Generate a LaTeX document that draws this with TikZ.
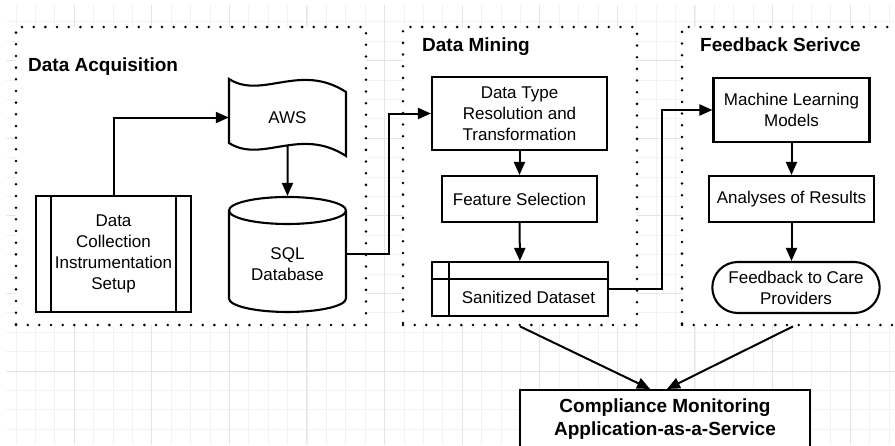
\documentclass[tikz,border=0pt]{standalone}
\usepackage{fontspec}
\setmainfont{Liberation Sans}
\usepackage{tikz}
\usetikzlibrary{arrows.meta,shapes,positioning,calc}

\begin{document}
\begin{tikzpicture}[x=1pt, y=-1pt, >={Triangle[length=13pt,width=11pt]},
  every node/.style={font=\fontsize{17pt}{21pt}\selectfont, align=center},
  box/.style={draw, line width=2.1pt, fill=white, inner sep=2pt},
  procbox/.style={box, path picture={
    \draw[line width=2.1pt] ([xshift=15pt]path picture bounding box.north west) -- ([xshift=15pt]path picture bounding box.south west);
    \draw[line width=2.1pt] ([xshift=-15pt]path picture bounding box.north east) -- ([xshift=-15pt]path picture bounding box.south east);}},
  storebox/.style={box, path picture={
    \draw[line width=2.1pt] ([yshift=-17pt]path picture bounding box.north west) -- ([yshift=-17pt]path picture bounding box.north east);
    \draw[line width=2.1pt] ([xshift=17pt]path picture bounding box.north west) -- ([xshift=17pt]path picture bounding box.south west);}},
  dbase/.style={cylinder, shape border rotate=90, draw, line width=2.1pt, fill=white, aspect=0.34},
  panel/.style={draw, fill=white, line width=2.8pt, line cap=round, dash pattern=on 0pt off 11.67pt},
  title/.style={anchor=base west, inner sep=0pt, font=\fontsize{19pt}{23pt}\selectfont\bfseries},
  link/.style={->, line width=2pt}]

  \useasboundingbox (0,0) rectangle (895,445);
  \clip (0,0) rectangle (895,445);

  % background grid
  \foreach \i in {1,...,46}
    \draw[black!5, line width=0.8pt] ({-3.4+19.4*\i},5) -- ({-3.4+19.4*\i},445);
  \foreach \i in {1,...,22}
    \draw[black!5, line width=0.8pt] (6,{2.4+19.4*\i}) -- (895,{2.4+19.4*\i});
  \foreach \i in {1,...,11}
    \draw[black!10, line width=0.9pt] ({-3.6+77.6*\i},5) -- ({-3.6+77.6*\i},445);
  \foreach \i in {0,...,4}
    \draw[black!10, line width=0.9pt] (6,{60.6+77.6*\i}) -- (895,{60.6+77.6*\i});

  % panels
  \node[panel, minimum width=350, minimum height=298] (acq) at (191,176) {};
  \node[panel, minimum width=234, minimum height=298] (mining) at (520,176) {};
  \node[panel, minimum width=222, minimum height=298] (feedback) at (793,176) {};
  \node[title] (acqtitle) at (28,71) {Data Acquisition};
  \node[title] (miningtitle) at (422,51.5) {Data Mining};
  \node[title] (feedbacktitle) at (700,51.5) {Feedback Serivce};

  % data acquisition
  \node[procbox, minimum width=155, minimum height=116] (dcis) at (113.5,254) {Data\\Collection\\Instrumentation\\Setup};
  \node[minimum width=117, minimum height=56] (aws) at (287.5,117.5) {};
  \draw[line width=2.1pt, fill=white, shift={(aws.center)}]
    (-58.5,-38.5) .. controls (-25.5,-17.5) and (12.5,-55.5) .. (58.5,-25.5)
    -- (58.5,38.5) .. controls (12.5,8.5) and (-25.5,46.5) .. (-58.5,25.5) -- cycle;
  \node (awstext) at (aws) {AWS};
  \node[dbase, minimum width=117, minimum height=115] (sql) at (287.5,264) {SQL\\Database};

  % data mining
  \node[box, minimum width=175, minimum height=73] (dtrt) at (519.5,113.5) {Data Type\\Resolution and\\Transformation};
  \node[box, minimum width=155, minimum height=46] (fsel) at (519.5,199) {Feature Selection};
  \node[storebox, minimum width=176, minimum height=54,
    label={[xshift=8.5pt, yshift=-8.5pt]center:Sanitized Dataset}] (sani) at (520,289) {};

  % feedback service
  \node[box, minimum width=156, minimum height=64] (mlm) at (791.5,110) {Machine Learning\\Models};
  \node[box, minimum width=165, minimum height=46] (aor) at (791.5,199) {Analyses of Results};
  \node[rounded rectangle, draw, line width=2.1pt, fill=white, minimum width=174, minimum height=51] (fcp) at (796,287.5) {Feedback to Care\\Providers};

  \node[box, minimum width=290, minimum height=58, font=\fontsize{19pt}{23pt}\selectfont\bfseries] (cmaas) at (665,419) {Compliance Monitoring\\Application-as-a-Service};

  \draw[link] (dcis.north) |- (aws.west);
  \draw[link] (aws.south) -- (sql.north);
  \draw[link] ($(sql.east)+(0,-10)$) -- ++(42,0) |- (dtrt.west);
  \draw[link] (dtrt) -- (fsel);
  \draw[link] (fsel) -- (sani);
  \draw[link] (sani.east) -- ++(53,0) |- (mlm.west);
  \draw[link] (mlm) -- (aor);
  \draw[link] (aor) -- (aor |- fcp.north);
  \draw[link] (mining.south) -- ($(cmaas.north)+(-15,0)$);
  \draw[link] (feedback.south) -- ($(cmaas.north)+(2,0)$);
\end{tikzpicture}
\end{document}
